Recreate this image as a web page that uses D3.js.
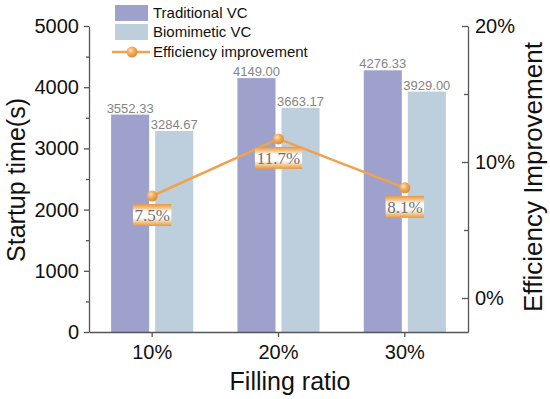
<!DOCTYPE html>
<html>
<head>
<meta charset="utf-8">
<script src="https://cdn.jsdelivr.net/npm/d3@7"></script>
<style>
  body { margin: 0; background: #fff; }
</style>
</head>
<body>
<div id="container"></div>
<script>
const categories = ['10%', '20%', '30%'];
const seriesNames = ['Traditional VC', 'Biomimetic VC'];
const traditional = [3552.33, 4149.0, 4276.33];
const biomimetic = [3284.67, 3663.17, 3929.0];
const improvement = [7.5, 11.7, 8.1];
const leftTicks = [0, 1000, 2000, 3000, 4000, 5000];
const rightTicks = [0, 10, 20];

const width = 550;
const height = 399;
const plotLeft = 89;
const plotRight = 468;
const plotTop = 26;
const plotBottom = 332;
const sans = '"Liberation Sans", Arial, sans-serif';
const serif = '"Liberation Serif", "Times New Roman", serif';

const colors = { trad: '#9fa1cd', bio: '#bdcfdc', line: '#f0a24f' };

const svg = d3
  .select('#container')
  .append('svg')
  .attr('width', width)
  .attr('height', height)
  .attr('font-family', sans);

const defs = svg.append('defs');
// label box gradient
const lg = defs
  .append('linearGradient')
  .attr('id', 'boxGrad')
  .attr('x1', 0)
  .attr('y1', 0)
  .attr('x2', 0)
  .attr('y2', 1);
[
  [0, '#e4983f'],
  [0.18, '#f2c48c'],
  [0.35, '#ffffff'],
  [0.62, '#ffffff'],
  [0.82, '#f3c995'],
  [1, '#e4983f'],
].forEach(([o, c]) => lg.append('stop').attr('offset', o).attr('stop-color', c));

const rg = defs
  .append('radialGradient')
  .attr('id', 'ballGrad')
  .attr('cx', 0.38)
  .attr('cy', 0.35)
  .attr('r', 0.7);
[
  [0, '#fde3c0'],
  [0.45, '#f3aa58'],
  [1, '#d98a35'],
].forEach(([o, c]) => rg.append('stop').attr('offset', o).attr('stop-color', c));

// scales
const x0 = d3
  .scaleBand()
  .domain(categories)
  .range([plotLeft, plotRight])
  .paddingInner(0.35)
  .paddingOuter(0.175);
const x1 = d3.scaleBand().domain(seriesNames).range([0, x0.bandwidth()]).paddingInner(0.136);
const y = d3.scaleLinear().domain([0, 5000]).range([plotBottom, plotTop]);
const y2 = d3.scaleLinear().domain([-2.5, 20]).range([plotBottom, plotTop]);

// bars
const barData = [traditional, biomimetic];
const barColors = [colors.trad, colors.bio];
seriesNames.forEach((s, si) => {
  const g = svg.append('g');
  g.selectAll('rect')
    .data(barData[si])
    .enter()
    .append('rect')
    .attr('x', (d, i) => x0(categories[i]) + x1(s))
    .attr('y', (d) => y(d))
    .attr('width', x1.bandwidth())
    .attr('height', (d) => plotBottom - y(d))
    .attr('fill', barColors[si]);
  g.selectAll('text')
    .data(barData[si])
    .enter()
    .append('text')
    .attr('x', (d, i) => x0(categories[i]) + x1(s) + x1.bandwidth() / 2)
    .attr('y', (d) => y(d) - 2)
    .attr('text-anchor', 'middle')
    .attr('font-size', 13)
    .attr('fill', '#858585')
    .text((d) => d.toFixed(2));
});

// axes
const styleAxis = (g) => {
  g.attr('font-family', sans).attr('font-size', 20);
  g.selectAll('path, line').attr('stroke', '#555').attr('stroke-width', 1.3);
  g.selectAll('text').attr('fill', '#111');
};

svg
  .append('g')
  .attr('transform', `translate(${plotLeft},0)`)
  .call(
    d3
      .axisLeft(y)
      .tickValues(leftTicks)
      .tickSize(5)
      .tickSizeOuter(0)
      .tickPadding(5)
      .tickFormat(d3.format('d')),
  )
  .call(styleAxis);
// minor ticks left
svg
  .append('g')
  .attr('transform', `translate(${plotLeft},0)`)
  .call(d3.axisLeft(y).tickValues([500, 1500, 2500, 3500, 4500]).tickSize(3).tickSizeOuter(0).tickFormat(''))
  .call(styleAxis)
  .select('.domain')
  .remove();

svg
  .append('g')
  .attr('transform', `translate(${plotRight},0)`)
  .call(
    d3
      .axisRight(y2)
      .tickValues(rightTicks)
      .tickSize(-6)
      .tickSizeOuter(0)
      .tickPadding(7)
      .tickFormat((d) => d + '%'),
  )
  .call(styleAxis);
svg
  .append('g')
  .attr('transform', `translate(${plotRight},0)`)
  .call(d3.axisRight(y2).tickValues([5, 15]).tickSize(-4).tickSizeOuter(0).tickFormat(''))
  .call(styleAxis)
  .select('.domain')
  .remove();

svg
  .append('g')
  .attr('transform', `translate(0,${plotBottom})`)
  .call(d3.axisBottom(x0).tickSize(5).tickSizeOuter(0).tickPadding(8))
  .call(styleAxis);

// axis titles
svg
  .append('text')
  .attr('transform', `translate(25,180) rotate(-90)`)
  .attr('text-anchor', 'middle')
  .attr('font-size', 25)
  .attr('fill', '#111')
  .text('Startup time(s)');
svg
  .append('text')
  .attr('transform', `translate(542,177) rotate(-90)`)
  .attr('text-anchor', 'middle')
  .attr('font-size', 26)
  .attr('fill', '#111')
  .text('Efficiency Improvement');
svg
  .append('text')
  .attr('x', 290)
  .attr('y', 390)
  .attr('text-anchor', 'middle')
  .attr('font-size', 25)
  .attr('fill', '#111')
  .text('Filling ratio');

// line
const cx = (i) => x0(categories[i]) + x0.bandwidth() / 2;
svg
  .append('path')
  .datum(improvement)
  .attr('fill', 'none')
  .attr('stroke', colors.line)
  .attr('stroke-width', 2.5)
  .attr(
    'd',
    d3
      .line()
      .x((d, i) => cx(i))
      .y((d) => y2(d)),
  );

// labels below points
const lab = svg
  .selectAll('.pt-label')
  .data(improvement)
  .enter()
  .append('g')
  .attr('class', 'pt-label')
  .attr('transform', (d, i) => `translate(${cx(i)},${y2(d) + 19})`);
lab
  .append('rect')
  .attr('x', (d) => -(String(d.toFixed(1)).length * 4.4 + 6))
  .attr('y', -11)
  .attr('width', (d) => 2 * (String(d.toFixed(1)).length * 4.4 + 6))
  .attr('height', 22)
  .attr('fill', 'url(#boxGrad)');
lab
  .append('text')
  .attr('text-anchor', 'middle')
  .attr('y', 6)
  .attr('font-size', 17)
  .attr('font-family', serif)
  .attr('fill', '#707070')
  .text((d) => d.toFixed(1) + '%');

svg
  .selectAll('.pt')
  .data(improvement)
  .enter()
  .append('circle')
  .attr('class', 'pt')
  .attr('cx', (d, i) => cx(i))
  .attr('cy', (d) => y2(d))
  .attr('r', 5.5)
  .attr('fill', 'url(#ballGrad)');

// legend
const legend = svg.append('g');
seriesNames.forEach((s, i) => {
  legend
    .append('rect')
    .attr('x', 115)
    .attr('y', 5 + i * 19)
    .attr('width', 33)
    .attr('height', 16)
    .attr('fill', barColors[i]);
  legend
    .append('text')
    .attr('x', 153)
    .attr('y', 18 + i * 19)
    .attr('font-size', 15)
    .attr('fill', '#111')
    .text(s);
});
legend
  .append('line')
  .attr('x1', 112)
  .attr('x2', 150)
  .attr('y1', 52)
  .attr('y2', 52)
  .attr('stroke', colors.line)
  .attr('stroke-width', 2.5);
legend
  .append('circle')
  .attr('cx', 132)
  .attr('cy', 52)
  .attr('r', 5.5)
  .attr('fill', 'url(#ballGrad)');
legend
  .append('text')
  .attr('x', 153)
  .attr('y', 57)
  .attr('font-size', 15)
  .attr('fill', '#111')
  .text('Efficiency improvement');
</script>
</body>
</html>
